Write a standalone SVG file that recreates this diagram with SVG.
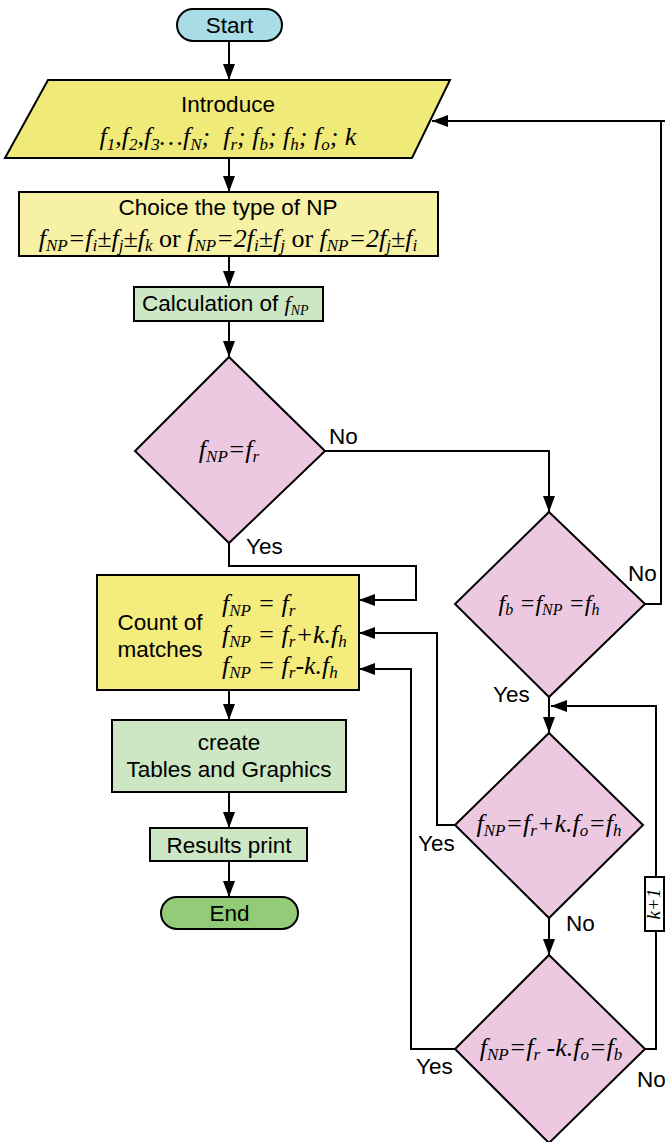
<svg xmlns="http://www.w3.org/2000/svg" width="665" height="1142" viewBox="0 0 665 1142">
<style>
.n{stroke:#000;stroke-width:2}
.t{font-family:"Liberation Sans",Arial,sans-serif;font-size:22.5px;fill:#000}
.m{font-family:"Liberation Serif","Times New Roman",serif;font-style:italic;font-size:26px;fill:#000}
.sb{font-size:17px}
.up{font-style:normal}
.c{fill:none;stroke:#000;stroke-width:2}
.dia{fill:#ecc9e1}
.yel{fill:#f0ea78}
.pale{fill:#f6f1a4}
.grn{fill:#cde6c4}
</style>
<defs>
<marker id="ah" markerUnits="userSpaceOnUse" markerWidth="16" markerHeight="12" refX="16" refY="6" orient="auto">
<path d="M0,0 L16,6 L0,12 z" fill="#000"/>
</marker>
</defs>

<g id="connectors">
<path class="c" d="M229,41 V80" marker-end="url(#ah)"/>
<path class="c" d="M229,158 V192" marker-end="url(#ah)"/>
<path class="c" d="M229,256 V287" marker-end="url(#ah)"/>
<path class="c" d="M229,321 V357" marker-end="url(#ah)"/>
<path class="c" d="M325,451 H549 V512" marker-end="url(#ah)"/>
<path class="c" d="M229,543 V566 H416 V600 H359" marker-end="url(#ah)"/>
<path class="c" d="M645,604 H661 V121 H432" marker-end="url(#ah)"/>
<path class="c" d="M661,121 H665"/>
<path class="c" d="M549,697 V733" marker-end="url(#ah)"/>
<path class="c" d="M656,877 V706 H551" marker-end="url(#ah)"/>
<path class="c" d="M455,825 H437 V633 H359" marker-end="url(#ah)"/>
<path class="c" d="M549,918 V955" marker-end="url(#ah)"/>
<path class="c" d="M455,1049 H411 V669 H359" marker-end="url(#ah)"/>
<path class="c" d="M645,1049 H656 V931"/>
<path class="c" d="M229,690 V720" marker-end="url(#ah)"/>
<path class="c" d="M229,792 V828" marker-end="url(#ah)"/>
<path class="c" d="M229,861 V897" marker-end="url(#ah)"/>
<text class="t" x="329" y="444">No</text>
<text class="t" x="246" y="554">Yes</text>
<text class="t" x="628" y="581">No</text>
<text class="t" x="493" y="702">Yes</text>
<text class="t" x="418" y="851">Yes</text>
<text class="t" x="566" y="931">No</text>
<text class="t" x="416" y="1074">Yes</text>
<text class="t" x="637" y="1087">No</text>
</g>

<g id="start">
<rect class="n" x="177" y="9" width="105" height="32" rx="16" fill="#a8dce6"/>
<text class="t" x="229.5" y="33" text-anchor="middle">Start</text>
</g>

<g id="introduce">
<polygon class="n yel" points="48,80 450,80 412,158 5,158"/>
<text class="t" x="228" y="112" text-anchor="middle">Introduce</text>
<text class="m" x="228" y="145" text-anchor="middle">f<tspan class="sb" dy="5">1</tspan><tspan dy="-5">,f</tspan><tspan class="sb" dy="5">2</tspan><tspan dy="-5">,f</tspan><tspan class="sb" dy="5">3</tspan><tspan dy="-5">…f</tspan><tspan class="sb" dy="5">N</tspan><tspan dy="-5">;&#160; f</tspan><tspan class="sb" dy="5">r</tspan><tspan dy="-5">; f</tspan><tspan class="sb" dy="5">b</tspan><tspan dy="-5">; f</tspan><tspan class="sb" dy="5">h</tspan><tspan dy="-5">; f</tspan><tspan class="sb" dy="5">o</tspan><tspan dy="-5">; k</tspan></text>
</g>

<g id="choice">
<rect class="n pale" x="19" y="192" width="419" height="64"/>
<text class="t" x="228" y="215" text-anchor="middle">Choice the type of NP</text>
<text class="m" x="228" y="247" text-anchor="middle">f<tspan class="sb" dy="4">NP</tspan><tspan dy="-4">=f</tspan><tspan class="sb" dy="4">i</tspan><tspan dy="-4">±f</tspan><tspan class="sb" dy="4">j</tspan><tspan dy="-4">±f</tspan><tspan class="sb" dy="4">k</tspan><tspan dy="-4" class="up"> or </tspan>f<tspan class="sb" dy="4">NP</tspan><tspan dy="-4">=2f</tspan><tspan class="sb" dy="4">i</tspan><tspan dy="-4">±f</tspan><tspan class="sb" dy="4">j</tspan><tspan dy="-4" class="up"> or </tspan>f<tspan class="sb" dy="4">NP</tspan><tspan dy="-4">=2f</tspan><tspan class="sb" dy="4">j</tspan><tspan dy="-4">±f</tspan><tspan class="sb" dy="4">i</tspan></text>
</g>

<g id="calc">
<rect class="n grn" x="134" y="287" width="189" height="34"/>
<text class="t" x="142" y="311">Calculation of <tspan class="m" style="font-size:22px">f</tspan><tspan class="m" dy="4" style="font-size:14px">NP</tspan></text>
</g>

<g id="dec1">
<polygon class="n dia" points="229,357 325,451 229,543 135,451"/>
<text class="m" x="229" y="458" text-anchor="middle">f<tspan class="sb" dy="4">NP</tspan><tspan dy="-4">=f</tspan><tspan class="sb" dy="4">r</tspan></text>
</g>

<g id="dec2">
<polygon class="n dia" points="549,512 645,604 549,697 455,604"/>
<text class="m" x="549" y="611" text-anchor="middle" style="font-size:24px">f<tspan class="sb" dy="4" style="font-size:16px">b</tspan><tspan dy="-4"> =f</tspan><tspan class="sb" dy="4" style="font-size:16px">NP</tspan><tspan dy="-4"> =f</tspan><tspan class="sb" dy="4" style="font-size:16px">h</tspan></text>
</g>

<g id="count">
<rect class="n yel" x="97" y="575" width="262" height="115" style="fill:#f4ec7c"/>
<text class="t" x="160" y="630" text-anchor="middle">Count of</text>
<text class="t" x="160" y="657" text-anchor="middle">matches</text>
<text class="m" x="222" y="612">f<tspan class="sb" dy="4">NP</tspan><tspan dy="-4"> = f</tspan><tspan class="sb" dy="4">r</tspan></text>
<text class="m" x="222" y="643">f<tspan class="sb" dy="4">NP</tspan><tspan dy="-4"> = f</tspan><tspan class="sb" dy="4">r</tspan><tspan dy="-4">+k.f</tspan><tspan class="sb" dy="4">h</tspan></text>
<text class="m" x="222" y="674">f<tspan class="sb" dy="4">NP</tspan><tspan dy="-4"> = f</tspan><tspan class="sb" dy="4">r</tspan><tspan dy="-4">-k.f</tspan><tspan class="sb" dy="4">h</tspan></text>
</g>

<g id="dec3">
<polygon class="n dia" points="549,733 643,825 549,918 455,825"/>
<text class="m" x="549" y="832" text-anchor="middle">f<tspan class="sb" dy="4">NP</tspan><tspan dy="-4">=f</tspan><tspan class="sb" dy="4">r</tspan><tspan dy="-4">+k.f</tspan><tspan class="sb" dy="4">o</tspan><tspan dy="-4">=f</tspan><tspan class="sb" dy="4">h</tspan></text>
</g>

<g id="dec4">
<polygon class="n dia" points="549,955 645,1049 549,1143 455,1049"/>
<text class="m" x="551" y="1056" text-anchor="middle">f<tspan class="sb" dy="4">NP</tspan><tspan dy="-4">=f</tspan><tspan class="sb" dy="4">r</tspan><tspan dy="-4"> -k.f</tspan><tspan class="sb" dy="4">o</tspan><tspan dy="-4">=f</tspan><tspan class="sb" dy="4">b</tspan></text>
</g>

<g id="kplus1">
<rect class="n" x="645" y="877" width="19" height="54" fill="#fff"/>
<text class="m" transform="translate(660,904) rotate(-90)" text-anchor="middle" style="font-size:19px">k+1</text>
</g>

<g id="tables">
<rect class="n grn" x="112" y="720" width="234" height="72"/>
<text class="t" x="229" y="750" text-anchor="middle">create</text>
<text class="t" x="229" y="777" text-anchor="middle">Tables and Graphics</text>
</g>

<g id="results">
<rect class="n grn" x="150" y="828" width="157" height="33"/>
<text class="t" x="229" y="853" text-anchor="middle">Results print</text>
</g>

<g id="end">
<rect class="n" x="161" y="897" width="137" height="32" rx="16" fill="#92cc78"/>
<text class="t" x="229.5" y="921" text-anchor="middle">End</text>
</g>
</svg>
